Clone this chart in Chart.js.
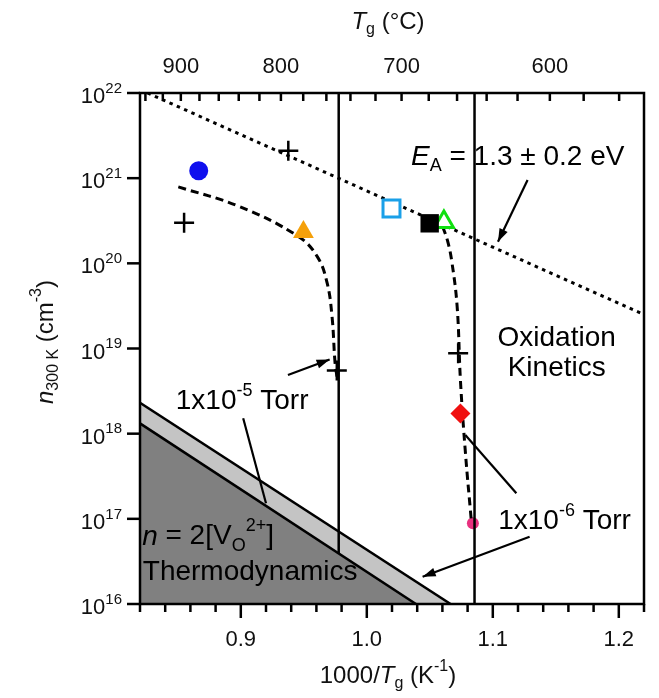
<!DOCTYPE html>
<html>
<head>
<meta charset="utf-8">
<script src="https://cdn.jsdelivr.net/npm/chart.js@4.4.0/dist/chart.umd.min.js"></script>
<style>
  html, body { margin: 0; padding: 0; background: #fff; }
</style>
</head>
<body>
<canvas id="chart" width="659" height="698"></canvas>
<script>
// values: x = 1000/Tg (1/K), n = carrier density (cm^-3)
const plusX = [0.855, 0.9377, 0.9762, 1.0725];
const plusN = [3.0e20, 2.1e21, 5.5e18, 8.8e18];
const blueCircleX = [0.8666];
const blueCircleN = [1.22e21];
const orangeTriX = [0.9497];
const orangeTriN = [2.33e20];
const openSquareX = [1.0196];
const openSquareN = [4.4e20];
const blackSquareX = [1.0499];
const blackSquareN = [2.95e20];
const greenTriX = [1.0612];
const greenTriN = [3.05e20];
const redDiamondX = [1.0743];
const redDiamondN = [1.73e18];
const pinkX = [1.0842];
const pinkN = [8.9e16];

// guide curves for 1x10^-5 and 1x10^-6 Torr
const curve5X = [0.8504, 0.898, 0.945, 0.9607, 0.9685, 0.9724, 0.9748, 0.9763];
const curve5N = [7.9e20, 4.7e20, 2.1e20, 1.2e20, 5.9e19, 2.37e19, 6.8e18, 4.7e18];
const curve6X = [1.0602, 1.0639, 1.0673, 1.0717, 1.0743, 1.0783, 1.0829];
const curve6N = [2.7e20, 1.88e20, 1.09e20, 3.1e19, 4.27e18, 5.9e17, 9.7e16];

// activation line (EA = 1.3 eV)
const activationX = [0.826, 1.22];
const activationN = [1e22, 2.5e19];

// vertical pressure limits
const vLine5X = [0.9777, 0.9777];
const vLine5N = [1e22, 3.93e16];
const vLine6X = [1.0855, 1.0855];
const vLine6N = [1e22, 1e16];

// thermodynamic limit band
const thermoLowX = [0.82, 1.039];
const thermoLowN = [1.32e18, 1e16];
const thermoHighX = [0.82, 1.0665];
const thermoHighN = [2.31e18, 1e16];

// axis ticks
const xTickValues = [0.9, 1.0, 1.1, 1.2];
const xTickLabels = ['0.9', '1.0', '1.1', '1.2'];
const topTickCelsius = [900, 800, 700, 600];
const yTickExponents = [16, 17, 18, 19, 20, 21, 22];

const FONT = '"Liberation Sans", Arial, Helvetica, sans-serif';

function pts(xs, ns) {
    return xs.map((x, i) => ({ x: x, y: ns[i] }));
}

function marker(xs, ns, style, radius, fillColor, lineColor, lineWidth) {
    return {
        data: pts(xs, ns), xAxisID: 'x', yAxisID: 'y', showLine: false,
        pointStyle: style, pointRadius: radius, pointHoverRadius: radius,
        pointBackgroundColor: fillColor, pointBorderColor: lineColor, pointBorderWidth: lineWidth
    };
}

function line(xs, ns, width, dash, extra) {
    return Object.assign({
        data: pts(xs, ns), xAxisID: 'x', yAxisID: 'y', showLine: true,
        borderColor: '#000', borderWidth: width, borderDash: dash,
        pointRadius: 0, pointHoverRadius: 0, fill: false, tension: 0
    }, extra || {});
}

// text with italic / sub / sup pieces
function rich(ctx, parts, x, y, size, align) {
    const items = parts.map(([t, k]) => {
        const small = k === 'sub' || k === 'sup';
        const s = small ? Math.round(size * 0.66) : size;
        const font = (k === 'i' ? 'italic ' : '') + s + 'px ' + FONT;
        ctx.font = font;
        const dy = k === 'sub' ? size * 0.33 : (k === 'sup' ? -size * 0.38 : 0);
        return { t: t, font: font, w: ctx.measureText(t).width, dy: dy };
    });
    const total = items.reduce((a, b) => a + b.w, 0);
    let cx = align === 'center' ? x - total / 2 : (align === 'right' ? x - total : x);
    ctx.textAlign = 'left';
    ctx.textBaseline = 'middle';
    items.forEach(it => {
        ctx.font = it.font;
        ctx.fillText(it.t, cx, y + it.dy);
        cx += it.w;
    });
}

function arrow(ctx, x1, y1, x2, y2, head) {
    ctx.beginPath();
    ctx.moveTo(x1, y1);
    ctx.lineTo(x2, y2);
    ctx.stroke();
    if (!head) return;
    const a = Math.atan2(y2 - y1, x2 - x1), L = 13, W = 4.5;
    ctx.beginPath();
    ctx.moveTo(x2, y2);
    ctx.lineTo(x2 - L * Math.cos(a) + W * Math.sin(a), y2 - L * Math.sin(a) - W * Math.cos(a));
    ctx.lineTo(x2 - L * Math.cos(a) - W * Math.sin(a), y2 - L * Math.sin(a) + W * Math.cos(a));
    ctx.closePath();
    ctx.fill();
}

const decorations = {
    id: 'decorations',
    afterDatasetsDraw(chart) {
        const ctx = chart.ctx, a = chart.chartArea;
        const xs = chart.scales.x, ys = chart.scales.y;
        const X = v => xs.getPixelForValue(v);
        const Y = e => ys.getPixelForValue(Math.pow(10, e));
        ctx.save();
        ctx.strokeStyle = '#000';
        ctx.fillStyle = '#000';
        ctx.lineWidth = 2.5;
        ctx.lineCap = 'butt';

        // frame
        ctx.strokeRect(a.left, a.top, a.right - a.left, a.bottom - a.top);

        // bottom ticks, outward
        for (let i = 0; i <= 20; i++) {
            const v = 0.82 + 0.02 * i;
            const major = xTickValues.some(t => Math.abs(t - v) < 1e-6);
            const px = X(v);
            ctx.beginPath();
            ctx.moveTo(px, a.bottom);
            ctx.lineTo(px, a.bottom + (major ? 14 : 8));
            ctx.stroke();
        }
        // top ticks (every 20 C), inward
        for (let c = 560; c <= 940; c += 20) {
            const px = X(1000 / (c + 273.15));
            if (px < a.left + 2 || px > a.right - 2) continue;
            ctx.beginPath();
            ctx.moveTo(px, a.top);
            ctx.lineTo(px, a.top + 8);
            ctx.stroke();
        }
        // left ticks, outward
        yTickExponents.forEach(e => {
            const py = Y(e);
            ctx.beginPath();
            ctx.moveTo(a.left - 13, py);
            ctx.lineTo(a.left, py);
            ctx.stroke();
        });

        ctx.fillStyle = '#111';
        // tick labels
        xTickValues.forEach((v, i) => rich(ctx, [[xTickLabels[i], 'n']], X(v), 640, 22, 'center'));
        topTickCelsius.forEach(c => rich(ctx, [[String(c), 'n']], X(1000 / (c + 273.15)), 67, 22, 'center'));
        yTickExponents.forEach(e => rich(ctx, [['10', 'n'], [String(e), 'sup']], a.left - 18, Y(e) + 4, 22, 'right'));

        // axis titles
        rich(ctx, [['T', 'i'], ['g', 'sub'], [' (\u00B0C)', 'n']], (a.left + a.right) / 2 - 4, 22, 24, 'center');
        rich(ctx, [['1000/', 'n'], ['T', 'i'], ['g', 'sub'], [' (K', 'n'], ['-1', 'sup'], [')', 'n']], (a.left + a.right) / 2 - 4, 676, 24, 'center');
        ctx.save();
        ctx.translate(46, 342);
        ctx.rotate(-Math.PI / 2);
        rich(ctx, [['n', 'i'], ['300 K', 'sub'], [' (cm', 'n'], ['-3', 'sup'], [')', 'n']], 0, 0, 24, 'center');
        ctx.restore();

        // annotations
        ctx.fillStyle = '#000';
        rich(ctx, [['E', 'i'], ['A', 'sub'], [' = 1.3 \u00B1 0.2 eV', 'n']], X(1.0351), Y(21.25), 28, 'left');
        rich(ctx, [['Oxidation', 'n']], X(1.1507), Y(19.12), 28, 'center');
        rich(ctx, [['Kinetics', 'n']], X(1.1507), Y(18.768), 28, 'center');
        rich(ctx, [['1x10', 'n'], ['-6', 'sup'], [' Torr', 'n']], X(1.1043), Y(16.967), 28, 'left');
        rich(ctx, [['1x10', 'n'], ['-5', 'sup'], [' Torr', 'n']], X(0.8484), Y(18.375), 28, 'left');
        rich(ctx, [['n', 'i'], [' = 2[V', 'n'], ['O', 'sub'], ['2+', 'sup'], [']', 'n']], X(0.8217), Y(16.79), 28, 'left');
        rich(ctx, [['Thermodynamics', 'n']], X(0.8222), Y(16.368), 28, 'left');

        ctx.lineWidth = 2.2;
        arrow(ctx, X(1.1276), Y(20.979), X(1.1041), Y(20.254), true);
        arrow(ctx, X(1.1187), Y(17.30), X(1.0782), Y(17.985), false);
        arrow(ctx, X(1.1292), Y(16.79), X(1.0443), Y(16.321), true);
        arrow(ctx, X(0.9019), Y(18.181), X(0.9200), Y(17.183), false);
        arrow(ctx, X(0.9374), Y(18.689), X(0.9705), Y(18.87), true);
        ctx.restore();
    }
};

const chart = new Chart(document.getElementById('chart').getContext('2d'), {
    type: 'line',
    data: {
        datasets: [
            marker(plusX, plusN, 'cross', 10, '#000', '#000', 2.5),
            marker(blueCircleX, blueCircleN, 'circle', 9.5, '#1010ee', '#1010ee', 0),
            marker(orangeTriX, orangeTriN, 'triangle', 12, '#f5a00a', '#f5a00a', 0),
            marker(blackSquareX, blackSquareN, 'rect', 13, '#000', '#000', 0),
            marker(greenTriX, greenTriN, 'triangle', 11, '#fff', '#10e010', 3),
            marker(openSquareX, openSquareN, 'rect', 12, '#fff', '#1aa0e8', 3),
            marker(redDiamondX, redDiamondN, 'rectRot', 10, '#f01010', '#f01010', 0),
            line(curve5X, curve5N, 3, [8, 5], { tension: 0.4 }),
            line(curve6X, curve6N, 3, [8, 5], { tension: 0.4 }),
            line(vLine6X, vLine6N, 2.5, []),
            marker(pinkX, pinkN, 'circle', 6, '#e8307f', '#e8307f', 0),
            line(vLine5X, vLine5N, 2.5, []),
            line(activationX, activationN, 3, [3.5, 4.5]),
            line(thermoLowX, thermoLowN, 2.5, [], { fill: 'start', backgroundColor: '#808080' }),
            line(thermoHighX, thermoHighN, 2.5, [], { fill: 'start', backgroundColor: '#c4c4c4' })
        ]
    },
    options: {
        responsive: false,
        animation: false,
        devicePixelRatio: 1,
        layout: { padding: { left: 0, right: 8, top: 0, bottom: 0 } },
        plugins: { legend: { display: false }, tooltip: { enabled: false } },
        scales: {
            x: {
                type: 'linear', position: 'bottom', min: 0.82, max: 1.22,
                afterFit: s => { s.height = 94; },
                ticks: { display: false }, grid: { display: false }, border: { display: false }
            },
            xTop: {
                type: 'linear', position: 'top', min: 0.82, max: 1.22,
                afterFit: s => { s.height = 93; },
                ticks: { display: false }, grid: { display: false }, border: { display: false }
            },
            y: {
                type: 'logarithmic', position: 'left', min: 1e16, max: 1e22,
                afterFit: s => { s.width = 140; },
                ticks: { display: false }, grid: { display: false }, border: { display: false }
            }
        }
    },
    plugins: [decorations]
});
</script>
</body>
</html>
